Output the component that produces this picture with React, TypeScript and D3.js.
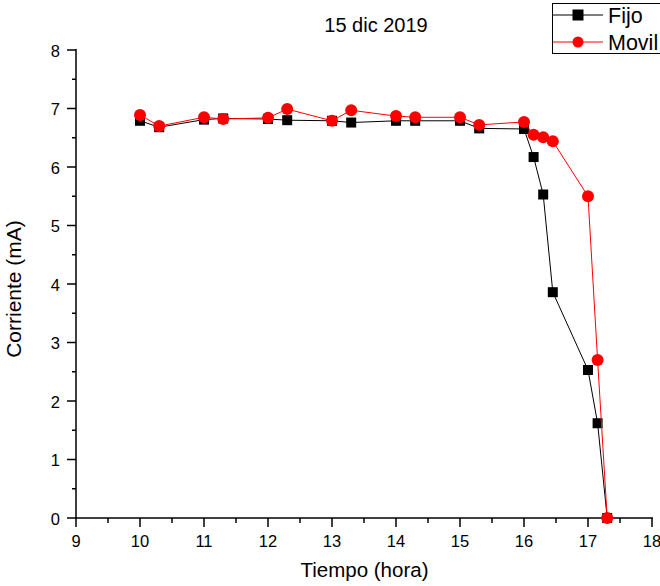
import React from "react";
import * as d3 from "d3";

const horas = [10, 10.3, 11, 11.3, 12, 12.3, 13, 13.3, 14, 14.3, 15, 15.3, 16, 16.15, 16.3, 16.45, 17, 17.15, 17.3];
const fijo = [6.79, 6.68, 6.81, 6.83, 6.82, 6.8, 6.79, 6.76, 6.79, 6.79, 6.79, 6.66, 6.65, 6.17, 5.53, 3.86, 2.53, 1.62, 0];
const movil = [6.89, 6.7, 6.85, 6.82, 6.84, 6.99, 6.79, 6.97, 6.87, 6.85, 6.85, 6.72, 6.77, 6.55, 6.51, 6.44, 5.5, 2.7, 0];
const xTicks = [9, 10, 11, 12, 13, 14, 15, 16, 17, 18];
const yTicks = [0, 1, 2, 3, 4, 5, 6, 7, 8];

export default function App() {
  const x = d3.scaleLinear().domain([9, 18]).range([76, 652]);
  const y = d3.scaleLinear().domain([0, 8]).range([518, 50]);
  const line = d3.line<number>().x((_, i) => x(horas[i])).y((d) => y(d));
  const font = "'Liberation Sans', Arial, sans-serif";
  const xMinor = d3.range(9.5, 18, 1);
  const yMinor = d3.range(0.5, 8, 1);
  return (
    <svg width={660} height={586} style={{ position: "absolute", left: 0, top: 0 }} fontFamily={font}>
      <rect width={660} height={586} fill="white" />
      <text x={376} y={32} textAnchor="middle" fontSize={20}>15 dic 2019</text>
      {/* axes */}
      <line x1={76} x2={76} y1={49} y2={518} stroke="black" strokeWidth={1.5} />
      <line x1={75} x2={653} y1={518} y2={518} stroke="black" strokeWidth={1.5} />
      {xTicks.map((t) => (
        <g key={"xt" + t}>
          <line x1={x(t)} x2={x(t)} y1={518} y2={527} stroke="black" strokeWidth={1.5} />
          <text x={x(t)} y={547} textAnchor="middle" fontSize={16.5}>{t}</text>
        </g>
      ))}
      {xMinor.map((t) => (
        <line key={"xm" + t} x1={x(t)} x2={x(t)} y1={518} y2={523} stroke="black" strokeWidth={1.5} />
      ))}
      {yTicks.map((t) => (
        <g key={"yt" + t}>
          <line x1={67} x2={76} y1={y(t)} y2={y(t)} stroke="black" strokeWidth={1.5} />
          <text x={60} y={y(t) + 6.5} textAnchor="end" fontSize={16.5}>{t}</text>
        </g>
      ))}
      {yMinor.map((t) => (
        <line key={"ym" + t} x1={72} x2={76} y1={y(t)} y2={y(t)} stroke="black" strokeWidth={1.5} />
      ))}
      <text x={364.5} y={577} textAnchor="middle" fontSize={20.5}>Tiempo (hora)</text>
      <text transform="translate(21,289) rotate(-90)" textAnchor="middle" fontSize={21}>Corriente (mA)</text>
      {/* series */}
      <path d={line(fijo) || ""} fill="none" stroke="black" strokeWidth={1} />
      {fijo.map((v, i) => (
        <rect key={"f" + i} x={x(horas[i]) - 5} y={y(v) - 5} width={10} height={10} fill="black" />
      ))}
      <path d={line(movil) || ""} fill="none" stroke="red" strokeWidth={1} />
      {movil.map((v, i) => (
        <circle key={"m" + i} cx={x(horas[i])} cy={y(v)} r={6} fill="red" />
      ))}
      {/* legend */}
      <rect x={552.5} y={3.5} width={110} height={50} fill="white" stroke="black" strokeWidth={1} />
      <line x1={553} x2={603} y1={15} y2={15} stroke="black" strokeWidth={1} />
      <rect x={572.5} y={9.5} width={11} height={11} fill="black" />
      <text x={608} y={23} fontSize={21.5}>Fijo</text>
      <line x1={553} x2={603} y1={42} y2={42} stroke="red" strokeWidth={1} />
      <circle cx={578} cy={42} r={5.5} fill="red" />
      <text x={608} y={50} fontSize={21.5}>Movil</text>
    </svg>
  );
}
